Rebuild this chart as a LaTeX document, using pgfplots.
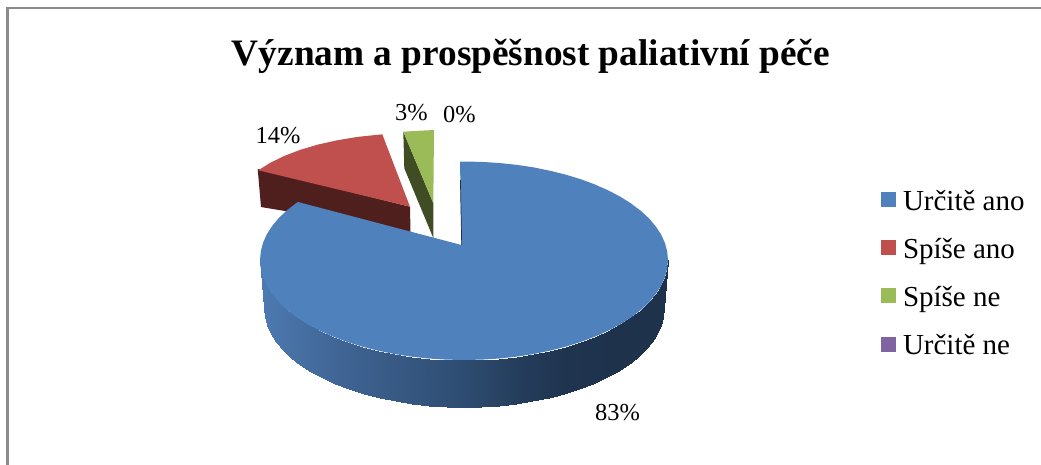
\documentclass[border=0pt]{standalone}
\usepackage{pgfplots}
\pgfplotsset{compat=1.18}
\usepackage{fontspec}
\setmainfont{Liberation Serif}

\definecolor{blueTop}{RGB}{79,129,189}
\definecolor{redTop}{RGB}{192,80,77}
\definecolor{redSide}{RGB}{79,31,29}
\definecolor{greenTop}{RGB}{155,187,89}
\definecolor{greenSide}{RGB}{63,76,36}
\definecolor{purpleKey}{RGB}{128,100,162}
\definecolor{blueEdge}{RGB}{30,50,76}
\definecolor{frameGrey}{RGB}{140,140,140}

\pgfplotsset{
  colormap={blueside}{
    rgb255=(78,122,178) rgb255=(68,108,158) rgb255=(60,96,142)
    rgb255=(53,86,127) rgb255=(46,76,113) rgb255=(37,62,93)
    rgb255=(31,52,79) rgb255=(30,50,76) rgb255=(30,50,76)
  },
  /pgfplots/legend image code/.code={
    \fill[#1,draw=none] (0pt,3.2pt) rectangle (15pt,18.2pt);
    \path[draw=none,fill=none] (0pt,-7pt) rectangle (22pt,22pt);
  },
}

\newcommand{\lab}[3]{\node[anchor=base west,inner sep=0pt,font=\fontsize{24.4}{28}\selectfont] at (axis cs:#1,#2) {#3};}

\begin{document}
\begin{tikzpicture}
\useasboundingbox (0,0) rectangle (1041pt,464pt);
\begin{axis}[
  at={(0,0)}, anchor=south west,
  scale only axis,
  width=1041pt, height=464pt,
  xmin=0, xmax=1041, ymin=0, ymax=464,
  y dir=reverse,
  hide axis,
  clip=true,
  legend cell align=left,
  legend style={
    at={(axis cs:881,188)}, anchor=north west,
    draw=none, fill=none, inner sep=0pt, outer sep=0pt,
    font=\fontsize{29}{32}\selectfont,
    row sep=19.3pt,
    nodes={inner sep=0pt, outer sep=0pt, anchor=base west},
  },
]
% chart frame: left and top rules only
\addplot[frameGrey, line width=2.6pt, forget plot] coordinates {(7.5,470) (7.5,8) (1050,8)};

% red slice: wall, then top face
\addplot[fill=redSide, draw=none, forget plot] coordinates {
  (257.7,169) (410,206.7) (410.5,232) (261,207)} -- cycle;
\addplot[fill=redTop, draw=none, forget plot] coordinates {
  (410,206.7) (258.3,170.3) (270.4,162.7) (284.4,155.9) (300.3,149.8)
  (317.9,144.6) (337.2,140.3) (357.4,136.9) (382.3,134.3)} -- cycle;

% green slice: wall, then top face
\addplot[fill=greenSide, draw=none, forget plot] coordinates {
  (403.3,131.7) (433.3,203.3) (433.3,238) (404.3,168.3)} -- cycle;
\addplot[fill=greenTop, draw=none, forget plot] coordinates {
  (433.3,203.3) (403.3,131.7) (418,130.8) (434,130)} -- cycle;

% blue slice: curved outer wall with a left-to-right shade
\addplot[surf, shader=interp, mesh/rows=2, colormap name=blueside,
  point meta=x, point meta min=260, point meta max=668, forget plot] coordinates {
  (668,260) (667.2,268.7) (664.9,277.4) (661.1,285.9) (655.7,294.2) (648.9,302.3) (640.7,310)
  (631.1,317.4) (620.3,324.3) (608.3,330.7) (595.1,336.6) (581,341.9) (566,346.6) (550.2,350.6)
  (533.8,354) (516.8,356.6) (499.4,358.5) (481.8,359.6) (464,360) (446.2,359.6) (428.6,358.5)
  (411.2,356.6) (394.2,354) (377.8,350.6) (362,346.6) (347,341.9) (332.9,336.6) (319.7,330.7)
  (307.7,324.3) (296.9,317.4) (287.3,310) (279.1,302.3) (272.3,294.2) (266.9,285.9) (263.1,277.4)
  (260.8,268.7) (260,260)

  (664,308) (663.2,316.6) (661,325.2) (657.2,333.6) (651.9,341.9) (645.3,349.8) (637.2,357.5)
  (627.8,364.8) (617.2,371.6) (605.4,378) (592.6,383.8) (578.7,389.1) (564,393.7) (548.5,397.7)
  (532.4,401) (515.8,403.6) (498.7,405.5) (481.4,406.6) (464,407) (446.6,406.6) (429.3,405.5)
  (412.2,403.6) (395.6,401) (379.5,397.7) (364,393.7) (349.3,389.1) (335.4,383.8) (322.6,378)
  (310.8,371.6) (300.2,364.8) (290.8,357.5) (282.7,349.8) (276.1,341.9) (270.8,333.6) (267,325.2)
  (264.8,316.6) (264,308)
};

% blue slice: top face
\addplot[fill=blueTop, draw=none, forget plot] coordinates {
  (461.5,245) (460,161.7) (464,161.5) (481.8,161.9) (499.4,163) (516.8,164.85) (533.8,167.4) (550.2,170.8)
  (566,174.7) (581,179.3) (595.1,184.55) (608.3,190.4) (620.3,196.7) (631.1,203.5) (640.7,210.75)
  (648.9,218.3) (655.7,226.3) (661.1,234.5) (664.9,242.9) (667.2,251.4)
  (668,260) (667.2,268.7) (664.9,277.4) (661.1,285.9) (655.7,294.2) (648.9,302.3) (640.7,310)
  (631.1,317.4) (620.3,324.3) (608.3,330.7) (595.1,336.6) (581,341.9) (566,346.6) (550.2,350.6)
  (533.8,354) (516.8,356.6) (499.4,358.5) (481.8,359.6) (464,360) (446.2,359.6) (428.6,358.5)
  (411.2,356.6) (394.2,354) (377.8,350.6) (362,346.6) (347,341.9) (332.9,336.6) (319.7,330.7)
  (307.7,324.3) (296.9,317.4) (287.3,310) (279.1,302.3) (272.3,294.2) (266.9,285.9) (263.1,277.4)
  (260.8,268.7) (260,260) (260.8,251.3) (263.1,242.6) (266.9,234.1) (272.3,225.8) (279.1,217.7)
  (287.3,210) (296.9,202.6) (298,202)} -- cycle;

% sliver of the inner wall along the cut
\addplot[blueEdge, line width=0.7pt, forget plot] coordinates {(460.4,180) (461.7,245)};

% legend keys
\addlegendimage{fill=blueTop}
\addlegendentry{Určitě ano}
\addlegendimage{fill=redTop}
\addlegendentry{Spíše ano}
\addlegendimage{fill=greenTop}
\addlegendentry{Spíše ne}
\addlegendimage{fill=purpleKey}
\addlegendentry{Určitě ne}

% title and data labels
\node[anchor=base,inner sep=0pt,font=\fontsize{37.3}{40}\selectfont\bfseries] at (axis cs:531,65) {Význam a prospěšnost paliativní péče};
\lab{255.5}{143}{14\%}
\lab{395}{120}{3\%}
\lab{443}{122}{0\%}
\lab{595}{420}{83\%}
\end{axis}
\end{tikzpicture}
\end{document}
